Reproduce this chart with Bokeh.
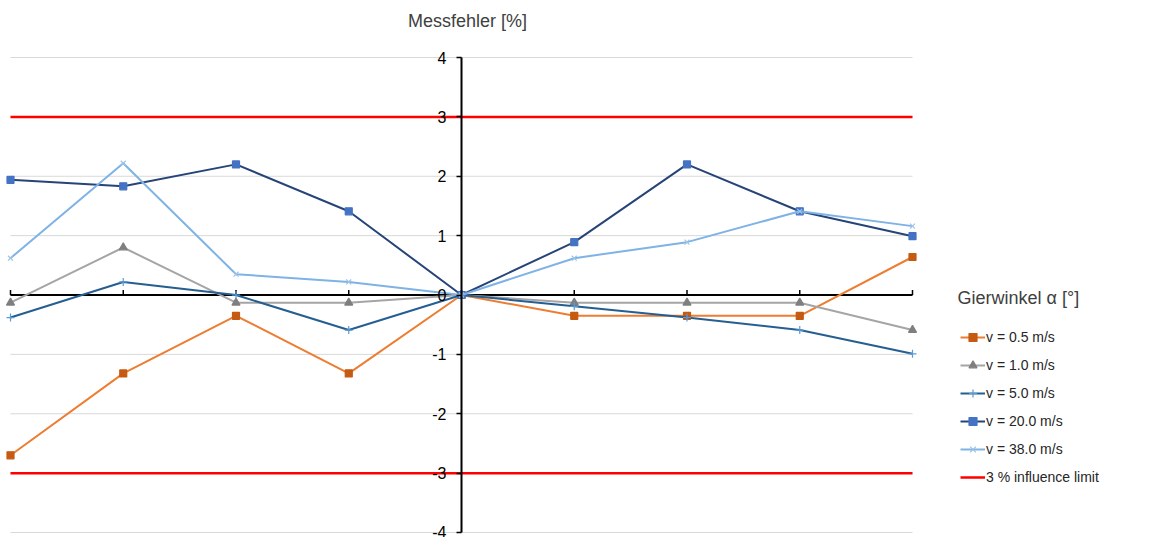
import math
from bokeh.plotting import figure
from bokeh.models import Range1d, LinearAxis, FixedTicker, Grid, Legend, LegendItem, Label
from bokeh.embed import file_html
from bokeh.resources import INLINE

# ---- data ----
x_pos = [0, 1, 2, 3, 4, 5, 6, 7, 8]          # category positions (Gierwinkel steps)
zero_pos = 4                                  # category at which the value axis crosses
v05 = [-2.70, -1.32, -0.35, -1.32, 0.0, -0.35, -0.35, -0.35, 0.64]
v10 = [-0.13, 0.80, -0.13, -0.13, 0.0, -0.13, -0.13, -0.13, -0.59]
v50 = [-0.38, 0.22, 0.0, -0.59, 0.0, -0.19, -0.38, -0.59, -0.99]
v200 = [1.94, 1.83, 2.20, 1.41, 0.0, 0.89, 2.20, 1.41, 0.99]
v380 = [0.62, 2.22, 0.35, 0.22, 0.0, 0.62, 0.89, 1.41, 1.16]
limit = 3.0
y_ticks = [-4, -3, -2, -1, 0, 1, 2, 3, 4]
y_tick_labels = ["-4", "-3", "-2", "-1", "0", "1", "2", "3", "4"]
series_names = ["v = 0.5 m/s", "v = 1.0 m/s", "v = 5.0 m/s", "v = 20.0 m/s", "v = 38.0 m/s"]
limit_name = "3 % influence limit"
title_text = "Messfehler [%]"
xlabel_text = "Gierwinkel \u03b1 [\u00b0]"

FONT = "Liberation Sans"
W, H = 1150, 537
XS = 112.75    # px per category step
YS = 59.375    # px per percent
X0_PX, Y4_PX = 10, 57

p = figure(width=W, height=H, output_backend="svg", toolbar_location=None,
           x_axis_location=None, y_axis_location=None,
           x_range=Range1d(-X0_PX / XS, (W - X0_PX) / XS),
           y_range=Range1d(4 - (H - Y4_PX) / YS, 4 + Y4_PX / YS),
           min_border=0)
p.center = [r for r in p.center if not isinstance(r, Grid)]
p.outline_line_color = None
p.background_fill_color = "white"
p.border_fill_color = "white"

# horizontal grid lines spanning the category extent
p.multi_line([[x_pos[0], x_pos[-1]] for _ in y_ticks], [[t, t] for t in y_ticks],
             line_color="#D9D9D9", line_width=1)

# value axis crossing at the middle category
yax = LinearAxis(fixed_location=zero_pos, ticker=FixedTicker(ticks=y_ticks, minor_ticks=[]),
                 bounds=(y_ticks[0], y_ticks[-1]),
                 major_label_overrides={t: s for t, s in zip(y_ticks, y_tick_labels)},
                 axis_line_color="black", axis_line_width=2,
                 major_tick_line_color="black", major_tick_line_width=1.5,
                 major_tick_out=5, major_tick_in=0, minor_tick_line_color=None,
                 major_label_text_font=FONT, major_label_text_font_size="16px",
                 major_label_text_color="#000000", major_label_standoff=10)
p.add_layout(yax, "left")

# category axis at y = 0 with upward ticks
p.line([x_pos[0], x_pos[-1]], [0, 0], line_color="black", line_width=2)
p.ray(x=x_pos, y=[0] * len(x_pos), length=5, length_units="screen", angle=math.pi / 2,
      line_color="black", line_width=1.5)

# series
styles = [
    (v05, "#ED7D31", "square", "#C55A11", 7),
    (v10, "#A5A5A5", "triangle", "#7F7F7F", 8),
    (v50, "#255E91", "cross", "#5B9BD5", 8),
    (v200, "#264478", "square", "#4472C4", 7),
    (v380, "#7FB2E5", "x", "#9DC3E6", 7),
]
items = []
for (vals, lc, mk, mc, ms), name in zip(styles, series_names):
    lr = p.line(x_pos, vals, line_color=lc, line_width=2)
    sr = p.scatter(x_pos, vals, marker=mk, size=ms, fill_color=mc, line_color=mc, line_width=1.2)
    items.append(LegendItem(label=name, renderers=[lr, sr]))

# limit lines
lim_x = [x_pos[0], x_pos[-1]]
lr_up = p.line(lim_x, [limit, limit], line_color="#FF0000", line_width=2.5)
p.line(lim_x, [-limit, -limit], line_color="#FF0000", line_width=2.5)
items.append(LegendItem(label=limit_name, renderers=[lr_up]))

legend = Legend(items=items, location=(960, 50), orientation="vertical",
                border_line_color=None, background_fill_alpha=0,
                padding=0, margin=0, spacing=8,
                glyph_width=25, glyph_height=20, label_height=20, label_standoff=1,
                label_text_font=FONT, label_text_font_size="14px", label_text_color="#262626")
p.add_layout(legend, "center")

p.add_layout(Label(x=467, y=H - 20, x_units="screen", y_units="screen", text=title_text,
                   text_font=FONT, text_font_size="18px", text_color="#404040",
                   text_align="center", text_baseline="middle"))
p.add_layout(Label(x=957, y=H - 297, x_units="screen", y_units="screen", text=xlabel_text,
                   text_font=FONT, text_font_size="18px", text_color="#404040",
                   text_align="left", text_baseline="middle"))

open("out.html", "w").write(file_html(p, INLINE))
